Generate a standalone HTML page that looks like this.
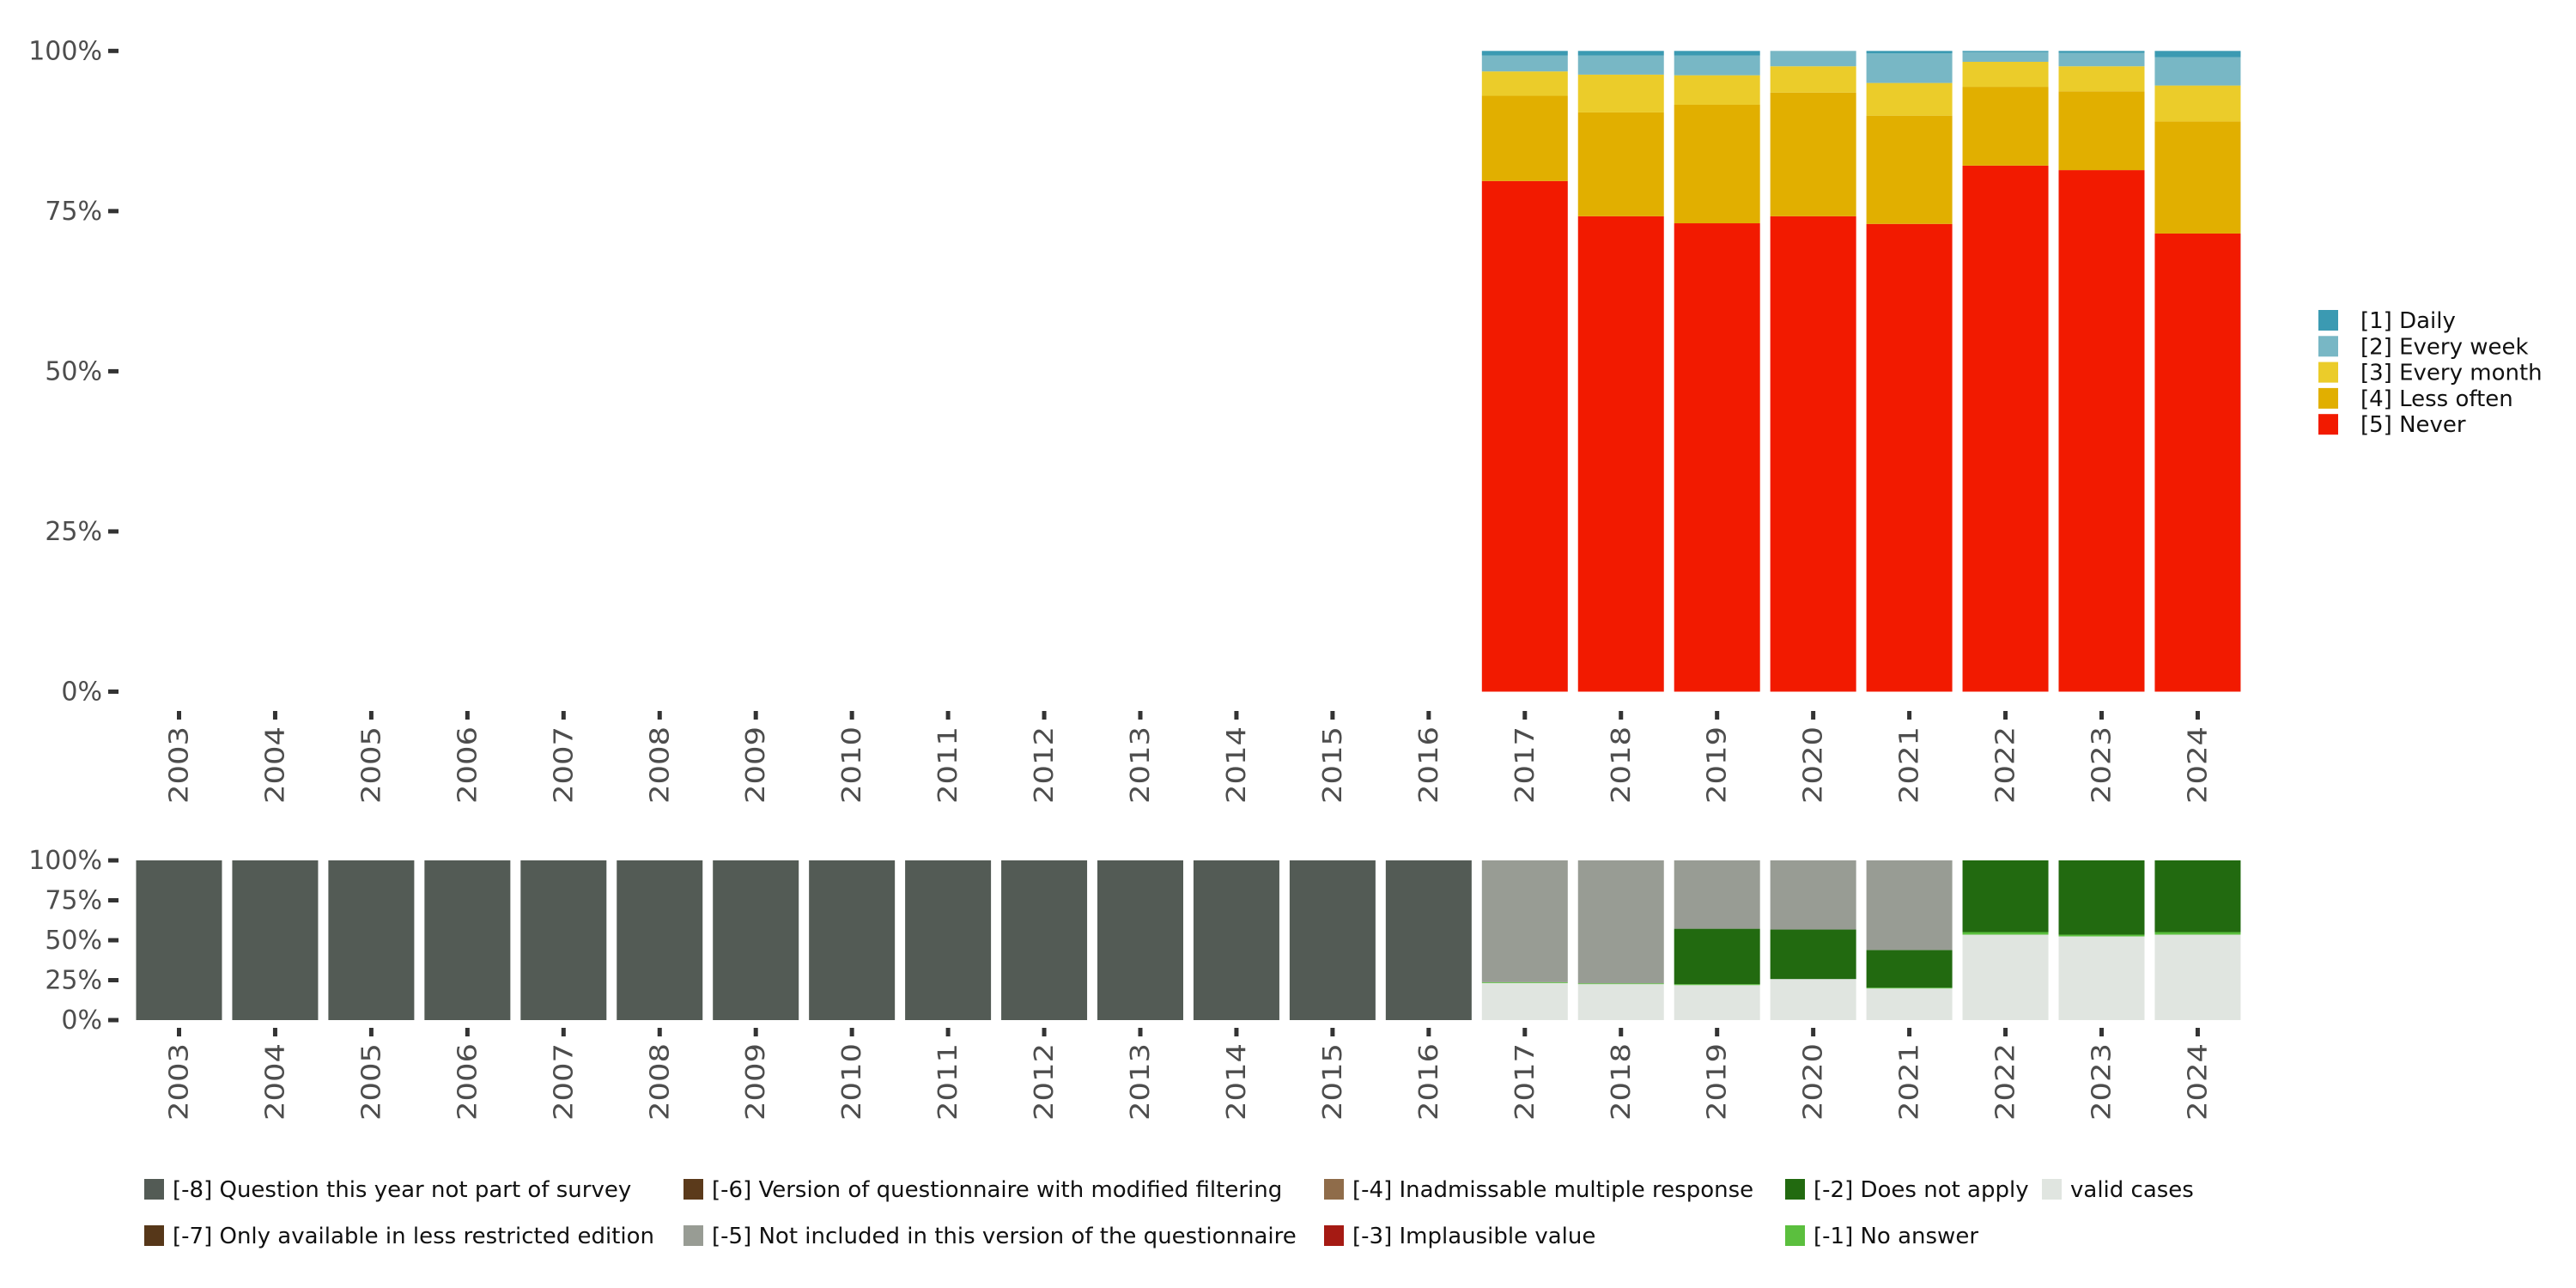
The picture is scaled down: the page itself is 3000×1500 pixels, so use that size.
<!DOCTYPE html>
<html><head><meta charset="utf-8"><style>
html,body{margin:0;padding:0;background:#fff;}
svg{display:block;font-family:"DejaVu Sans","Liberation Sans",sans-serif;}
</style></head><body>
<svg id="chart" width="3000" height="1500" viewBox="0 0 3000 1500" xmlns="http://www.w3.org/2000/svg"></svg>
<script>
const years=["2003","2004","2005","2006","2007","2008","2009","2010","2011","2012","2013","2014","2015","2016","2017","2018","2019","2020","2021","2022","2023","2024"];
const topYears=["2017","2018","2019","2020","2021","2022","2023","2024"];
const never=[79.7,74.2,73.1,74.2,73.0,82.1,81.4,71.5];
const lessOften=[13.3,16.2,18.5,19.3,16.9,12.3,12.3,17.5];
const everyMonth=[3.8,5.9,4.6,4.1,5.1,3.9,3.9,5.6];
const everyWeek=[2.5,3.0,3.1,2.4,4.6,1.5,2.1,4.4];
const daily=[0.7,0.7,0.7,0.0,0.4,0.2,0.3,1.0];
const topSeries=[["[5] Never",never,"#F21A00"],["[4] Less often",lessOften,"#E1AF00"],["[3] Every month",everyMonth,"#EBCC2A"],["[2] Every week",everyWeek,"#78B7C5"],["[1] Daily",daily,"#3B9AB2"]];
const valid=[0,0,0,0,0,0,0,0,0,0,0,0,0,0,23.2,22.5,21.9,25.7,19.8,53.5,52.4,53.5];
const noAnswer=[0,0,0,0,0,0,0,0,0,0,0,0,0,0,0.5,0.5,0.6,0,0.5,1.6,1.1,1.6];
const doesNotApply=[0,0,0,0,0,0,0,0,0,0,0,0,0,0,0,0,34.7,31.0,23.6,44.9,46.5,44.9];
const notIncluded=[0,0,0,0,0,0,0,0,0,0,0,0,0,0,76.3,77.0,42.8,43.3,56.1,0,0,0];
const notInSurvey=[100,100,100,100,100,100,100,100,100,100,100,100,100,100,0,0,0,0,0,0,0,0];
const botSeries=[["valid",valid,"#E0E5E0"],["no-answer",noAnswer,"#5BBF3E"],["does-not-apply",doesNotApply,"#226A10"],["not-included",notIncluded,"#989C94"],["not-in-survey",notInSurvey,"#535B55"]];
const yTicks=[0,25,50,75,100];

const NS="http://www.w3.org/2000/svg";
const svg=document.getElementById('chart');
function mk(tag,attrs,parent){const e=document.createElementNS(NS,tag);for(const k in attrs)e.setAttribute(k,attrs[k]);(parent||svg).appendChild(e);return e;}
const x0=208.5, step=111.95, bw=100;
const xPos=i=>x0+i*step;
const topY=v=>805.5-v/100*746.2;
const botY=v=>1188-v/100*186;

function yAxis(yf,name){
  const g=mk('g',{});
  
  
  yTicks.forEach(t=>{
    mk('rect',{x:126,y:yf(t)-2.5,width:12,height:5,fill:'#333'},g);
    const tx=mk('text',{x:119,y:yf(t)+10,'text-anchor':'end','font-size':30,fill:'#4d4d4d'},g);
    tx.textContent=t+'%';
  });
}
function xAxis(tickTop,name){
  const g=mk('g',{});
  
  
  years.forEach((y,i)=>{
    const x=xPos(i);
    mk('rect',{x:x-2.5,y:tickTop,width:5,height:10,fill:'#333'},g);
    const tx=mk('text',{transform:`translate(${x+10},${tickTop+18}) rotate(-90)`,'text-anchor':'end','font-size':30,fill:'#4d4d4d',textLength:90,lengthAdjust:'spacingAndGlyphs'},g);
    tx.textContent=y;
  });
}
yAxis(topY,'top-y-axis');
yAxis(botY,'bottom-y-axis');
xAxis(828,'top-x-axis');
xAxis(1197,'bottom-x-axis');

topYears.forEach((yr,j)=>{
  const i=years.indexOf(yr);
  let cum=0;
  topSeries.forEach(([nm,arr,col])=>{
    const v=arr[j];
    if(v>0){
      const r=mk('rect',{x:xPos(i)-bw/2,y:topY(cum+v),width:bw,height:topY(cum)-topY(cum+v),fill:col});
      
      
    }
    cum+=v;
  });
});
years.forEach((yr,i)=>{
  let cum=0;
  botSeries.forEach(([nm,arr,col])=>{
    const v=arr[i];
    if(v>0){
      const r=mk('rect',{x:xPos(i)-bw/2,y:botY(cum+v),width:bw,height:botY(cum)-botY(cum+v),fill:col});
      
      
    }
    cum+=v;
  });
});

const rl=[["[1] Daily","#3B9AB2"],["[2] Every week","#78B7C5"],["[3] Every month","#EBCC2A"],["[4] Less often","#E1AF00"],["[5] Never","#F21A00"]];
rl.forEach(([t,c],k)=>{
  const y=373+k*30.3;
  const g=mk('g',{});
  
  
  mk('rect',{x:2700,y:y-12,width:23,height:24,fill:c},g);
  const tx=mk('text',{x:2749,y:y+9,'font-size':26,fill:'#111'},g);
  tx.textContent=t;
});
const bl=[
 [168,1385,"#535B55","[-8] Question this year not part of survey"],
 [168,1439,"#563719","[-7] Only available in less restricted edition"],
 [796,1385,"#5B3A1B","[-6] Version of questionnaire with modified filtering"],
 [796,1439,"#989C94","[-5] Not included in this version of the questionnaire"],
 [1542,1385,"#8F6C4A","[-4] Inadmissable multiple response"],
 [1542,1439,"#A51A13","[-3] Implausible value"],
 [2079,1385,"#226A10","[-2] Does not apply"],
 [2079,1439,"#5BBF3E","[-1] No answer"],
 [2378,1385,"#E0E5E0","valid cases"]];
bl.forEach(([x,y,c,t])=>{
  const g=mk('g',{});
  
  
  mk('rect',{x:x,y:y-12,width:23,height:24,fill:c},g);
  const tx=mk('text',{x:x+33,y:y+9,'font-size':26,fill:'#111'},g);
  tx.textContent=t;
});
</script>
</body></html>
